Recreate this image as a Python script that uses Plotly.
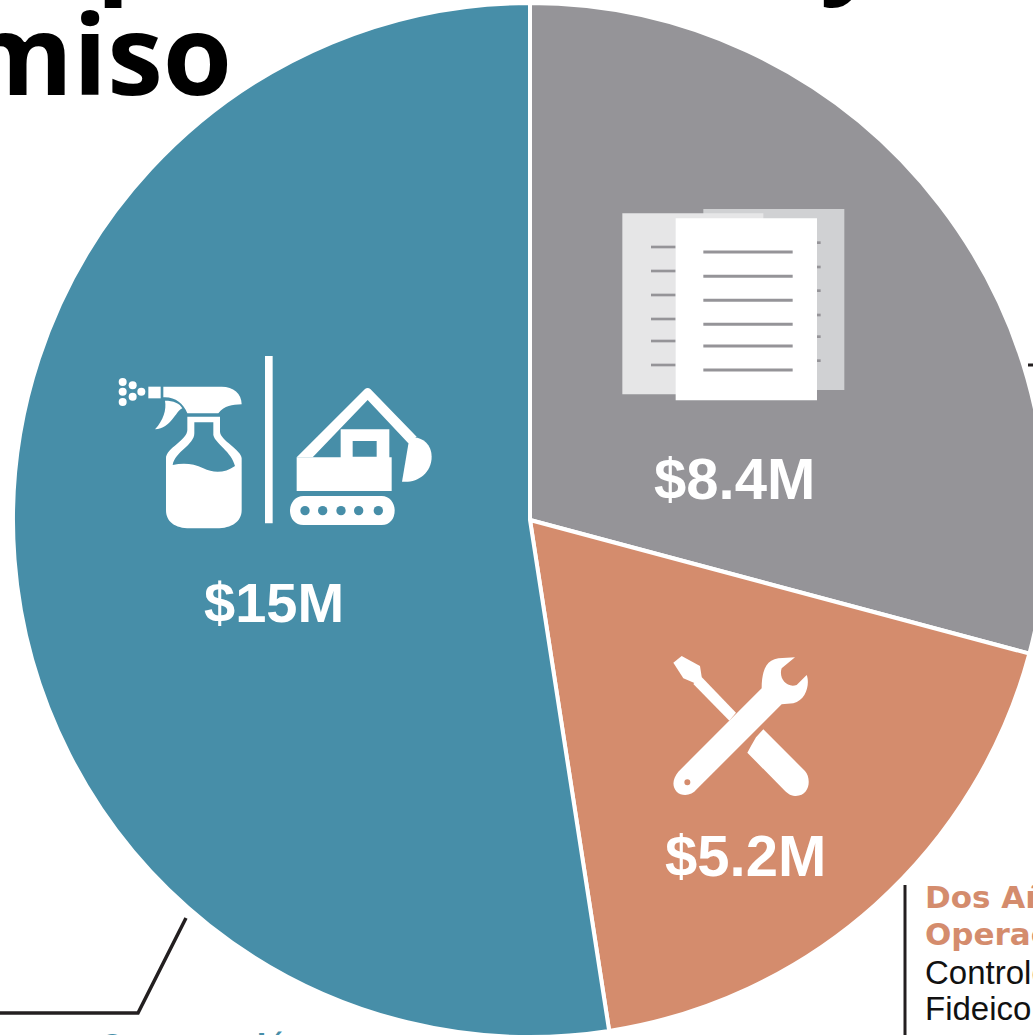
import re
import plotly.graph_objects as go

# Data
categories = ["Documentos", "Herramientas", "Limpieza y construcción"]
values = [8.34, 5.26, 15]
value_labels = ["$8.4M", "$5.2M", "$15M"]
colors = ["#959498", "#D48C6D", "#478EA8"]

W, H = 1060, 1060
BLUE, GRAY, ORANGE = colors[2], colors[0], colors[1]
INK = "#231F20"


def X(px):
    return px / W


def Y(py):
    return 1 - py / H


def path(d, ox=0, oy=0, s=1.0):
    def rep(m):
        return f"{X(ox + float(m[1]) * s):.5f},{Y(oy + float(m[2]) * s):.5f}"
    return re.sub(r"(-?[\d.]+),(-?[\d.]+)", rep, d)


shapes = []


def fill(d, color, ox=0, oy=0, s=1.0):
    shapes.append(dict(type="path", xref="paper", yref="paper", path=path(d, ox, oy, s),
                       fillcolor=color, line=dict(width=0), layer="above"))


def dot(cx, cy, r, color, ox=0, oy=0, s=1.0):
    shapes.append(dict(type="circle", xref="paper", yref="paper",
                       x0=X(ox + (cx - r) * s), x1=X(ox + (cx + r) * s),
                       y0=Y(oy + (cy + r) * s), y1=Y(oy + (cy - r) * s),
                       fillcolor=color, line=dict(width=0), layer="above"))


def box(x0, y0, x1, y1, color, ox=0, oy=0, s=1.0):
    fill(f"M{x0},{y0} L{x1},{y0} L{x1},{y1} L{x0},{y1} Z", color, ox, oy, s)


# Spray bottle and excavator
o = (100, 340, 1 / 3)
box(495, 48, 518, 550, "white", *o)
for c in [(68, 126), (98, 136), (68, 155), (98, 170), (68, 186), (124, 155)]:
    dot(c[0], c[1], 12, "white", *o)
box(145, 140, 182, 175, "white", *o)
fill("M190,140 L365,140 C400,140 425,160 425,193 C395,195 375,195 355,220 L262,220 C250,190 225,170 190,172 Z", "white", *o)
fill("M195,182 C220,182 240,190 247,205 C225,215 215,265 165,268 C190,240 200,210 195,182 Z", "white", *o)
fill("M262,230 L360,230 L360,275 C360,300 425,330 425,355 L425,510 C425,545 395,565 350,565 L270,565 "
     "C225,565 198,545 198,510 L198,355 C198,325 262,300 262,270 Z "
     "M283,247 L340,247 L340,285 C345,310 395,335 405,378 C375,400 340,400 310,385 C280,370 250,368 218,375 "
     "C225,335 283,315 283,280 Z", "white", *o)
fill("M590,352 L795,147 C800,143 806,143 811,147 L950,290 L925,310 L803,180 L638,352 Z", "white", *o)
fill("M722,268 L868,268 L868,352 L875,352 L875,453 L590,453 L590,352 L722,352 Z "
     "M758,303 L830,303 L830,350 L758,350 Z", "white", *o)
fill("M928,295 C960,285 995,310 995,350 C995,400 950,430 906,425 Z", "white", *o)
fill("M610,468 L845,468 C870,468 884,490 884,512 C884,535 870,555 845,555 L610,555 "
     "C585,555 570,535 570,512 C570,490 585,468 610,468 Z", "white", *o)
for cx in [615, 668, 723, 776, 835]:
    dot(cx, 512, 14, BLUE, *o)

# Documents
o = (600, 190, 1 / 3)
box(310, 57, 733, 600, "#D0D1D3", *o)
for y in [158, 231, 302, 375, 440, 512]:
    box(651, y - 4, 662, y + 4, GRAY, *o)
box(67, 70, 490, 613, "#E6E6E7", *o)
for y in [171, 243, 315, 387, 453, 525]:
    box(153, y - 4, 227, y + 4, GRAY, *o)
box(227, 85, 651, 631, "white", *o)
for y in [186, 259, 331, 403, 468, 540]:
    box(310, y - 4.5, 578, y + 4.5, GRAY, *o)

# Tools
o = (650, 640, 1 / 3)
fill("M70,68 L95,48 L150,78 L155,110 L135,130 L100,115 Z", "white", *o)
fill("M130,132 L152,108 L258,218 L238,242 Z", "white", *o)
fill("M340,268 L465,393 C485,415 480,470 435,468 C420,468 410,458 400,448 L292,338 L303,318 L318,292 Z", "white", *o)
fill("M335,145 C335,100 345,60 385,55 L435,52 L395,85 C385,115 410,145 440,135 L470,105 "
     "C480,130 470,180 430,190 L395,193 L140,448 C125,468 95,470 80,455 C65,440 68,415 85,395 Z", "white", *o)
dot(112, 427, 9, ORANGE, *o)

# Leader lines
shapes.append(dict(type="path", xref="paper", yref="paper",
                   path=path("M186,918 L138,1013 L0,1013"), line=dict(color=INK, width=3.5)))
shapes.append(dict(type="line", xref="paper", yref="paper", x0=X(905), x1=X(905), y0=Y(885), y1=Y(1040),
                   line=dict(color=INK, width=3)))
shapes.append(dict(type="line", xref="paper", yref="paper", x0=X(1028), x1=X(1040), y0=Y(365), y1=Y(365),
                   line=dict(color=INK, width=3)))


def note(text, x, y, size, color, family="Liberation Sans", weight=None, xanchor="center"):
    f = dict(family=family, size=size, color=color)
    if weight:
        f["weight"] = weight
    return dict(text=text, xref="paper", yref="paper", x=X(x), y=Y(y), showarrow=False,
                xanchor=xanchor, yanchor="middle", font=f, borderpad=0, borderwidth=0)


annotations = [
    note(value_labels[2], 274, 602, 56, "white", weight=700),
    note(value_labels[0], 734, 478, 58, "white", weight=700),
    note(value_labels[1], 745, 855, 58, "white", weight=700),
    note("miso", 232, 51, 112, "black", family="Open Sans", weight=700, xanchor="right"),
    note("p", 96, -62, 112, "black", family="Open Sans", weight=700, xanchor="left"),
    note("y", 820, -62, 112, "black", family="Open Sans", weight=700, xanchor="left"),
    note("Dos Años", 925, 897, 31, ORANGE, family="DejaVu Sans", weight=700, xanchor="left"),
    note("Operaciones", 925, 934, 31, ORANGE, family="DejaVu Sans", weight=700, xanchor="left"),
    note("Controles", 925, 972, 33, "#111111", xanchor="left"),
    note("Fideicomiso", 925, 1008, 33, "#111111", xanchor="left"),
    note("Construcción", 100, 1045, 28, BLUE, family="DejaVu Sans", weight=700, xanchor="left"),
]

fig = go.Figure(go.Pie(
    labels=categories, values=values, sort=False, direction="clockwise", rotation=0,
    marker=dict(colors=colors, line=dict(color="white", width=4)),
    textinfo="none", hoverinfo="label+value", showlegend=False,
    domain=dict(x=[0, 1], y=[Y(1037), Y(3)]),
))
fig.update_layout(width=W, height=H, autosize=False, margin=dict(l=0, r=0, t=0, b=0, pad=0),
                  paper_bgcolor="white", shapes=shapes, annotations=annotations)
fig.write_html("out.html", config=dict(displayModeBar=False),
               post_script="document.documentElement.style.overflow='hidden';"
                           "document.body.style.overflow='hidden';document.body.style.margin='0';")
